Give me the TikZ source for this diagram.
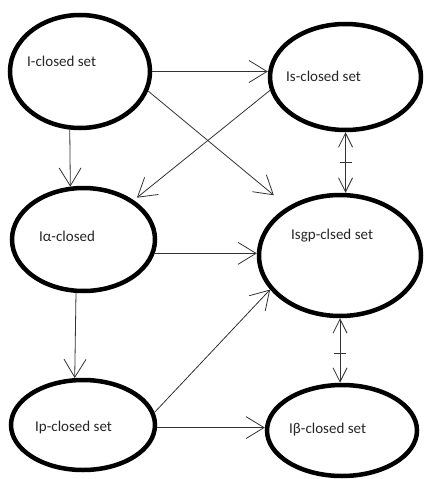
\documentclass[tikz,border=0pt]{standalone}
\usepackage{fontspec}
\setmainfont{Carlito}
\usetikzlibrary{shapes.geometric,arrows.meta,decorations.markings}
\begin{document}
\begin{tikzpicture}[x=1pt,y=-1pt,
  setnode/.style={ellipse,draw,line width=4.5pt,inner sep=0pt},
  lbl/.style={anchor=base west,inner sep=0pt,font=\fontsize{15}{18}\selectfont,text=black!85},
  conn/.style={draw=black!80,line width=0.8pt,-{Straight Barb[length=18pt,width=22pt]}},
  both/.style={draw=black!80,line width=0.8pt,{Straight Barb[length=14pt,width=14pt]}-{Straight Barb[length=14pt,width=14pt]}},
  midtick/.style={postaction={decorate,decoration={markings,mark=at position #1 with {\draw[arrows=-,line width=0.8pt,black!80] (0,-6pt) -- (0,6pt);}}}},
  midtick/.default=0.5
]
\useasboundingbox[fill=white] (0,0) rectangle (425,479);

\node[setnode,minimum width=140pt,minimum height=113pt] (A) at (80,71.5) {};
\node[setnode,minimum width=151pt,minimum height=106pt] (B) at (345.5,77) {};
\node[setnode,minimum width=143pt,minimum height=103pt] (C) at (83.5,239.5) {};
\node[setnode,minimum width=162pt,minimum height=121pt] (D) at (340,255.5) {};
\node[setnode,minimum width=144pt,minimum height=90pt] (E) at (83,425) {};
\node[setnode,minimum width=150pt,minimum height=91pt] (F) at (342,430.5) {};

\node[lbl] (tA) at (27,66) {I-closed set};
\node[lbl] (tB) at (286,81) {Is-closed set};
\node[lbl] (tC) at (39,241) {Iα-closed};
\node[lbl] (tD) at (291,239) {Isgp-clsed set};
\node[lbl] (tE) at (35,431) {Ip-closed set};
\node[lbl] (tF) at (289,433) {Iβ-closed set};

\draw[conn] (A.east) -- (A.east -| B.west);
\draw[conn,shorten >=18pt] (A.-16) -- (D.137);
\draw[conn,shorten >=4pt] (B.-170) -- (C.38);
\draw[conn] (A.-100) -- (C.104);
\draw[both,midtick] (B.south) -- (B.south |- D.north);
\draw[conn] (C.-11) -- (C.-11 -| D.west);
\draw[conn] (C.-98) -- (E.100);
\draw[conn] (E.10) -- (D.-154);
\draw[conn] (E.-2) -- (E.-2 -| F.west);
\draw[both,midtick=0.55] (D.south) -- (D.south |- F.north);
\end{tikzpicture}
\end{document}
